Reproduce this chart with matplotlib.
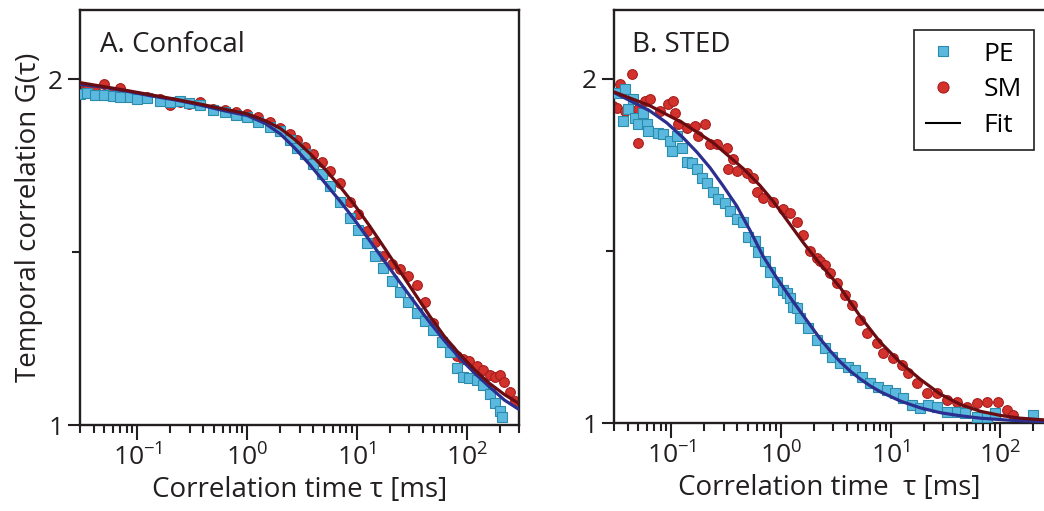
import math
import matplotlib
matplotlib.use("Agg")
import matplotlib.pyplot as plt
from matplotlib.lines import Line2D
from matplotlib.ticker import FixedLocator, FuncFormatter, LogLocator, NullFormatter

plt.rcParams['font.family'] = ['Open Sans', 'DejaVu Sans']
plt.rcParams['mathtext.fontset'] = 'custom'
plt.rcParams['mathtext.rm'] = 'Open Sans'
plt.rcParams['mathtext.it'] = 'Open Sans'
plt.rcParams['mathtext.bf'] = 'Open Sans'

# ---- Panel A: confocal ----
tau_a_pe = [0.030, 0.0351, 0.0415, 0.0501, 0.0605, 0.070, 0.0864, 0.100, 0.123, 0.162,
            0.200, 0.246, 0.297, 0.374, 0.491, 0.631, 0.794, 1.00, 1.26, 1.62,
            2.00, 2.46, 2.85, 3.37, 3.98, 4.81, 5.68, 7.00, 8.64, 10.2,
            12.3, 14.6, 17.2, 20.8, 24.6, 29.1, 35.1, 41.5, 49.1, 59.3,
            70.0, 81.1, 92.0, 106, 123, 140, 162, 180, 200, 212]
g_a_pe = [1.958, 1.960, 1.953, 1.955, 1.952, 1.947, 1.948, 1.944, 1.945, 1.938,
          1.935, 1.936, 1.930, 1.925, 1.910, 1.905, 1.895, 1.890, 1.875, 1.862,
          1.850, 1.825, 1.800, 1.785, 1.755, 1.725, 1.690, 1.645, 1.600, 1.565,
          1.525, 1.490, 1.455, 1.415, 1.385, 1.355, 1.325, 1.300, 1.275, 1.240,
          1.210, 1.165, 1.140, 1.135, 1.130, 1.115, 1.090, 1.065, 1.040, 1.022]

tau_a_sm = [0.030, 0.0351, 0.0415, 0.0501, 0.0605, 0.070, 0.0864, 0.100, 0.123, 0.162,
            0.200, 0.246, 0.297, 0.374, 0.491, 0.631, 0.794, 1.00, 1.26, 1.62,
            2.00, 2.46, 2.85, 3.37, 3.98, 4.81, 5.68, 7.00, 8.64, 10.2,
            12.3, 14.6, 17.2, 20.8, 24.6, 29.1, 35.1, 41.5, 49.1, 59.3,
            70.0, 81.1, 92.0, 106, 123, 140, 162, 180, 200, 221, 246, 273]
g_a_sm = [1.975, 1.972, 1.968, 1.985, 1.962, 1.975, 1.955, 1.950, 1.948, 1.942,
          1.925, 1.935, 1.928, 1.933, 1.915, 1.910, 1.905, 1.898, 1.890, 1.875,
          1.860, 1.840, 1.825, 1.805, 1.785, 1.760, 1.735, 1.700, 1.645, 1.610,
          1.560, 1.530, 1.490, 1.465, 1.450, 1.430, 1.405, 1.355, 1.295, 1.245,
          1.220, 1.200, 1.190, 1.185, 1.170, 1.160, 1.145, 1.140, 1.145, 1.125, 1.095, 1.070]

tau_a_fit = [0.03, 0.0461, 0.0778, 0.131, 0.222, 0.374, 0.631, 1.0, 1.46, 2.0,
             2.73, 3.74, 5.12, 7.0, 9.59, 13.1, 18.0, 24.6, 33.7, 46.1,
             63.1, 86.3, 118, 162, 221, 300]
fit_a_pe = [1.985, 1.978, 1.966, 1.952, 1.940, 1.925, 1.908, 1.895, 1.872, 1.842,
            1.800, 1.752, 1.700, 1.648, 1.592, 1.533, 1.472, 1.413, 1.354, 1.297,
            1.243, 1.194, 1.150, 1.110, 1.072, 1.045]
fit_a_sm = [1.990, 1.980, 1.968, 1.955, 1.942, 1.928, 1.913, 1.900, 1.880, 1.858,
            1.825, 1.785, 1.740, 1.690, 1.635, 1.575, 1.510, 1.445, 1.380, 1.315,
            1.255, 1.205, 1.160, 1.120, 1.088, 1.062]

# ---- Panel B: STED ----
tau_b_pe = [0.0325, 0.0361, 0.0376, 0.0401, 0.0445, 0.0464, 0.0494, 0.0549, 0.0597, 0.0610,
            0.0753, 0.0836, 0.0969, 0.1011, 0.1122, 0.1247, 0.1385, 0.1539, 0.1709, 0.190,
            0.2109, 0.2393, 0.266, 0.308, 0.342, 0.3964, 0.4497, 0.4995, 0.579, 0.6166,
            0.7145, 0.7935, 0.919, 1.043, 1.134, 1.208, 1.287, 1.400, 1.491, 1.764,
            2.132, 2.523, 2.923, 3.458, 4.091, 4.741, 5.492, 6.50, 7.69, 9.29,
            10.99, 13.0, 15.7, 18.6, 22.0, 26.6, 32.8, 40.5, 47.9, 61.6,
            76.1, 90.0, 200]
g_b_pe = [1.959, 1.878, 1.971, 1.913, 1.942, 1.887, 1.870, 1.900, 1.870, 1.849,
          1.843, 1.840, 1.820, 1.791, 1.835, 1.800, 1.757, 1.754, 1.739, 1.713,
          1.696, 1.670, 1.652, 1.640, 1.617, 1.594, 1.583, 1.539, 1.530, 1.496,
          1.472, 1.438, 1.409, 1.386, 1.377, 1.362, 1.336, 1.333, 1.304, 1.275,
          1.240, 1.217, 1.191, 1.174, 1.162, 1.154, 1.133, 1.116, 1.104, 1.096,
          1.087, 1.072, 1.052, 1.043, 1.052, 1.046, 1.032, 1.032, 1.029, 1.017,
          1.017, 1.029, 1.023]

tau_b_sm = [0.0292, 0.0318, 0.0339, 0.0376, 0.0436, 0.0494, 0.0500, 0.0573, 0.0636, 0.0785,
            0.0929, 0.1032, 0.1076, 0.1147, 0.1385, 0.1640, 0.1746, 0.2022, 0.2248, 0.2603,
            0.3213, 0.328, 0.3645, 0.3964, 0.4893, 0.555, 0.6036, 0.6848, 0.8453, 1.043,
            1.208, 1.40, 1.588, 1.840, 2.132, 2.271, 2.523, 2.802, 3.246, 3.842,
            4.448, 5.267, 6.10, 7.53, 8.54, 10.54, 12.74, 14.45, 17.46, 21.5,
            26.6, 32.8, 40.5, 49.96, 61.6, 76.1, 95.9, 115.8, 131.4]
g_b_sm = [1.922, 1.916, 1.986, 1.907, 2.014, 1.913, 1.814, 1.936, 1.942, 1.907,
          1.928, 1.936, 1.901, 1.870, 1.858, 1.864, 1.835, 1.870, 1.812, 1.812,
          1.800, 1.739, 1.768, 1.733, 1.725, 1.713, 1.670, 1.655, 1.641, 1.623,
          1.609, 1.583, 1.545, 1.501, 1.478, 1.472, 1.458, 1.435, 1.406, 1.371,
          1.342, 1.299, 1.261, 1.232, 1.203, 1.188, 1.168, 1.145, 1.116, 1.087,
          1.087, 1.067, 1.061, 1.046, 1.058, 1.061, 1.061, 1.038, 1.023]

tau_b_fit_pe = [0.03, 0.0418, 0.0636, 0.091, 0.127, 0.171, 0.225, 0.295, 0.396, 0.521,
                0.685, 0.90, 1.21, 1.49, 1.84, 2.27, 2.80, 3.46, 4.27, 5.27,
                6.50, 8.02, 12.2, 18.6, 28.3, 43.1, 65.7, 123, 250]
fit_b_pe = [1.960, 1.937, 1.907, 1.872, 1.830, 1.787, 1.742, 1.690, 1.630, 1.560,
            1.485, 1.425, 1.365, 1.325, 1.285, 1.245, 1.210, 1.178, 1.151, 1.128,
            1.108, 1.091, 1.064, 1.044, 1.030, 1.021, 1.014, 1.008, 1.004]

tau_b_fit_sm = [0.03, 0.0636, 0.127, 0.239, 0.450, 0.643, 0.845, 1.159, 1.588, 2.271,
                3.458, 5.267, 8.02, 12.2, 18.6, 28.3, 43.1, 65.7, 100, 152, 250]
fit_b_sm = [1.962, 1.922, 1.872, 1.815, 1.740, 1.690, 1.645, 1.585, 1.525, 1.462,
            1.394, 1.310, 1.235, 1.176, 1.127, 1.084, 1.054, 1.034, 1.022, 1.014, 1.009]

# colours
pe_face, pe_edge = '#5bb8de', '#2a8bab'
sm_face, sm_edge = '#d3312c', '#a51e1e'
pe_fit, sm_fit = '#2b2f8f', '#6a0d12'
ink = '#231f20'

fig = plt.figure(figsize=(10.44, 5.11), dpi=100)
ax_a = fig.add_axes([80 / 1044, 1 - 425 / 511, 439 / 1044, 415 / 511])
ax_b = fig.add_axes([614 / 1044, 1 - 423 / 511, 430 / 1044, 413 / 511])


def decade_label(v, pos):
    e = math.log10(v)
    if abs(e - round(e)) < 1e-6:
        return r'$\mathregular{10^{%d}}$' % round(e)
    return ''


def style_axis(ax, xmax):
    ax.set_xscale('log')
    ax.set_xlim(0.03, xmax)
    ax.set_ylim(1.0, 2.2)
    for s in ax.spines.values():
        s.set_linewidth(1.7)
        s.set_color(ink)
    ax.xaxis.set_major_locator(FixedLocator([0.1, 1, 10, 100]))
    ax.xaxis.set_major_formatter(FuncFormatter(decade_label))
    ax.xaxis.set_minor_locator(LogLocator(base=10, subs=range(2, 10), numticks=20))
    ax.xaxis.set_minor_formatter(NullFormatter())
    ax.yaxis.set_major_locator(FixedLocator([1, 2]))
    ax.yaxis.set_major_formatter(FuncFormatter(lambda v, p: '%d' % v))
    ax.yaxis.set_minor_locator(FixedLocator([1.5]))
    ax.tick_params(axis='both', which='major', direction='out', length=9, width=1.5,
                   color=ink, labelsize=19, labelcolor=ink, pad=3)
    ax.tick_params(axis='x', which='major', length=11)
    ax.tick_params(axis='both', which='minor', direction='out', length=5.5, width=1.5, color=ink)


# panel A
ax_a.plot(tau_a_sm, g_a_sm, 'o', ms=7, mfc=sm_face, mec=sm_edge, mew=0.8, zorder=2)
ax_a.plot(tau_a_pe, g_a_pe, 's', ms=6.5, mfc=pe_face, mec=pe_edge, mew=0.8, zorder=3)
ax_a.plot(tau_a_fit, fit_a_pe, '-', color=pe_fit, lw=2.3, zorder=4)
ax_a.plot(tau_a_fit, fit_a_sm, '-', color=sm_fit, lw=2.3, zorder=4)
style_axis(ax_a, 300)
ax_a.text(0.046, 0.915, 'A. Confocal', transform=ax_a.transAxes, fontsize=20,
          color=ink, va='center', ha='left')
ax_a.set_xlabel('Correlation time \u03c4 [ms]', fontsize=20, color=ink, labelpad=3)
ax_a.set_ylabel('Temporal correlation G(\u03c4)', fontsize=20, color=ink, labelpad=4)

# panel B
ax_b.plot(tau_b_sm, g_b_sm, 'o', ms=7, mfc=sm_face, mec=sm_edge, mew=0.8, zorder=2)
ax_b.plot(tau_b_pe, g_b_pe, 's', ms=6.5, mfc=pe_face, mec=pe_edge, mew=0.8, zorder=3)
ax_b.plot(tau_b_fit_pe, fit_b_pe, '-', color=pe_fit, lw=2.3, zorder=4)
ax_b.plot(tau_b_fit_sm, fit_b_sm, '-', color=sm_fit, lw=2.3, zorder=4)
style_axis(ax_b, 250)
ax_b.spines['right'].set_visible(False)
ax_b.text(0.042, 0.915, 'B. STED', transform=ax_b.transAxes, fontsize=20,
          color=ink, va='center', ha='left')
ax_b.set_xlabel('Correlation time  \u03c4 [ms]', fontsize=20, color=ink, labelpad=3)

handles = [
    Line2D([], [], ls='none', marker='s', ms=7, mfc=pe_face, mec=pe_edge, mew=0.8),
    Line2D([], [], ls='none', marker='o', ms=8, mfc=sm_face, mec=sm_edge, mew=0.8),
    Line2D([], [], color='black', lw=1.5),
]
leg = ax_b.legend(handles, ['PE', 'SM', 'Fit'], loc='upper right',
                  bbox_to_anchor=(0.977, 0.952), fontsize=19, frameon=True,
                  fancybox=False, edgecolor=ink, framealpha=1, borderaxespad=0,
                  handlelength=1.3, handletextpad=0.9, labelspacing=0.4,
                  borderpad=0.45)
leg.get_frame().set_linewidth(1.2)

fig.savefig('out.png', dpi=100)
